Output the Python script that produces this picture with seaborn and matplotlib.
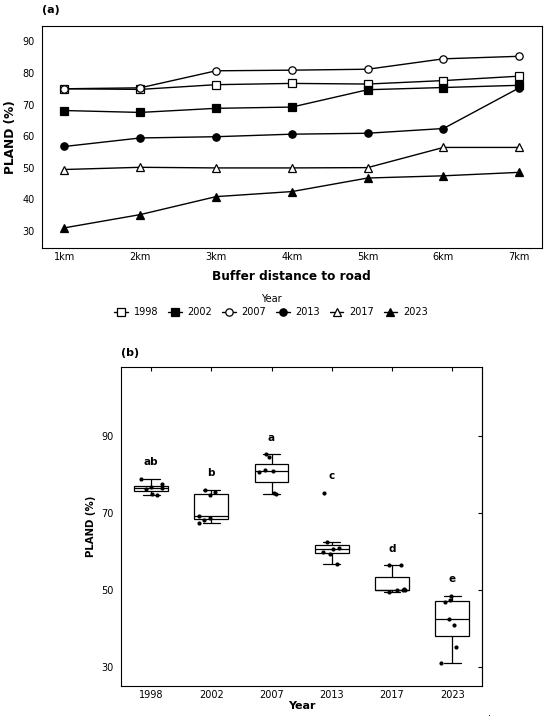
import numpy as np
import pandas as pd
import seaborn as sns
import matplotlib
matplotlib.use("Agg")
import matplotlib.pyplot as plt

# PLAND (%) per buffer distance, one list per year
distances = ["1km", "2km", "3km", "4km", "5km", "6km", "7km"]
years = ["1998", "2002", "2007", "2013", "2017", "2023"]
pland_1998 = [75.0, 74.8, 76.3, 76.7, 76.5, 77.6, 79.0]
pland_2002 = [68.1, 67.5, 68.8, 69.2, 74.7, 75.4, 76.1]
pland_2007 = [75.0, 75.3, 80.7, 80.9, 81.2, 84.5, 85.3]
pland_2013 = [56.7, 59.4, 59.8, 60.6, 60.9, 62.4, 75.3]
pland_2017 = [49.4, 50.1, 49.9, 49.9, 50.0, 56.4, 56.4]
pland_2023 = [30.9, 35.1, 40.8, 42.4, 46.7, 47.4, 48.5]
groups = ["ab", "b", "a", "c", "d", "e"]

series = [pland_1998, pland_2002, pland_2007, pland_2013, pland_2017, pland_2023]
markers = ["s", "s", "o", "o", "^", "^"]
fills = ["white", "black", "white", "black", "white", "black"]

df = pd.DataFrame({
    "Year": np.repeat(years, len(distances)),
    "dist": np.tile(np.arange(len(distances)), len(years)),
    "PLAND": np.concatenate(series),
})

sns.set_style("white")
plt.rcParams["font.family"] = ["DejaVu Sans"]
for k in ["text.color", "axes.labelcolor", "xtick.color", "ytick.color"]:
    plt.rcParams[k] = "black"

fig = plt.figure(figsize=(5.5, 7.18), dpi=100)
ax1 = fig.add_axes([0.0758, 0.655, 0.9097, 0.3092])
ax2 = fig.add_axes([0.22, 0.045, 0.657, 0.4434])

# (a) line chart
for yr, m, fc in zip(years, markers, fills):
    sub = df[df["Year"] == yr]
    sns.lineplot(data=sub, x="dist", y="PLAND", ax=ax1, color="black",
                 marker=m, markersize=5.3, markerfacecolor=fc,
                 markeredgecolor="black", markeredgewidth=0.9,
                 linewidth=1.0, label=yr, legend=False)
ax1.set_xlim(-0.3, 6.3)
ax1.set_ylim(24.6, 95)
ax1.set_xticks(range(len(distances)))
ax1.set_xticklabels(distances)
ax1.set_yticks(range(30, 91, 10))
ax1.tick_params(axis="x", direction="in", length=3, width=0.8, labelsize=7, pad=3)
ax1.tick_params(axis="y", direction="out", length=3, width=0.8, labelsize=7, pad=2)
ax1.set_xlabel("Buffer distance to road", fontsize=8.7, fontweight="bold", labelpad=6)
ax1.set_ylabel("PLAND (%)", fontsize=8.7, fontweight="bold", labelpad=4)
for s in ax1.spines.values():
    s.set_linewidth(0.8)
    s.set_color("black")
ax1.text(0.0, 1.05, "(a)", transform=ax1.transAxes, fontsize=8,
         fontweight="bold", va="bottom", ha="left")

handles, labels = ax1.get_legend_handles_labels()
fig.legend(handles, labels, title="Year", loc="center",
           bbox_to_anchor=(0.493, 0.574), ncol=6, frameon=False,
           fontsize=7, title_fontsize=7, handlelength=1.4,
           handletextpad=0.6, columnspacing=1.0, labelspacing=0.3)

# (b) box plot with points
sns.boxplot(data=df, x="Year", y="PLAND", ax=ax2, color="white",
            linecolor="black", width=0.56, showfliers=False, linewidth=0.9)
np.random.seed(3)
sns.stripplot(data=df, x="Year", y="PLAND", ax=ax2, color="black",
              size=3, jitter=0.22)
for i, yr in enumerate(years):
    top = df.loc[df["Year"] == yr, "PLAND"].max()
    ax2.text(i, top + 4.3, groups[i], ha="center", va="center",
             fontsize=7.5, fontweight="bold")
ax2.set_xlim(-0.5, 5.5)
ax2.set_ylim(25, 108)
ax2.set_yticks([30, 50, 70, 90])
ax2.tick_params(axis="x", direction="in", length=3, width=0.8, labelsize=7,
                top=True, pad=3)
ax2.tick_params(axis="y", direction="out", length=3, width=0.8, labelsize=7, pad=2)
right = ax2.secondary_yaxis("right")
right.set_yticks([30, 50, 70, 90])
right.tick_params(direction="in", length=3, width=0.8, labelright=False)
right.spines["right"].set_linewidth(0.8)
ax2.set_xlabel("Year", fontsize=8, fontweight="bold", labelpad=1)
ax2.set_ylabel("PLAND (%)", fontsize=7.3, fontweight="bold", labelpad=4)
for s in ax2.spines.values():
    s.set_linewidth(0.8)
    s.set_color("black")
ax2.text(0.0, 1.03, "(b)", transform=ax2.transAxes, fontsize=8,
         fontweight="bold", va="bottom", ha="left")

fig.text(0.888, 0.003, ".", fontsize=7)

fig.savefig("out.png", dpi=100)
